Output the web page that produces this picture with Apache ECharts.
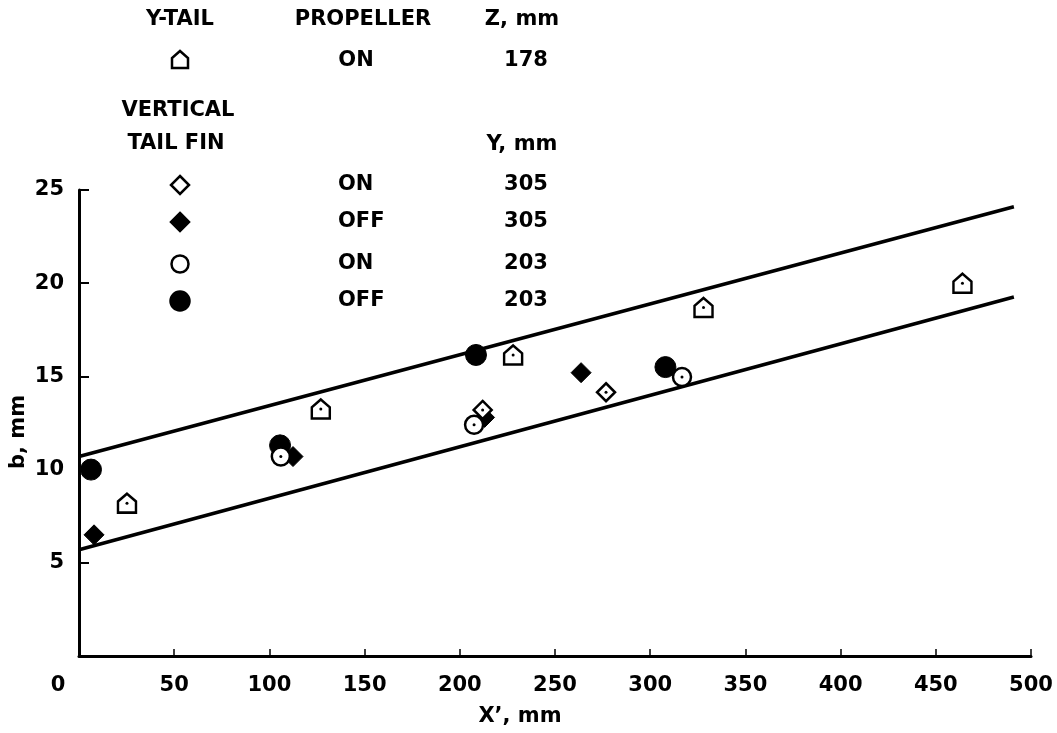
<!DOCTYPE html>
<html>
<head>
<meta charset="utf-8">
<script src="https://cdn.jsdelivr.net/npm/echarts@6/dist/echarts.min.js"></script>
<style>html,body{margin:0;padding:0;background:#fff;}#c{width:1057px;height:733px;}</style>
</head>
<body>
<div id="c"></div>
<script>
// ---- data ----
var xTicks = [0, 50, 100, 150, 200, 250, 300, 350, 400, 450, 500];
var yTicks = [5, 10, 15, 20, 25];
var yTailOn178 = [[25.2, 8.2], [127, 13.25], [228, 16.15], [328, 18.7], [464, 20.0]];
var finOn305 = [[212, 13.2], [276.8, 14.15]];
var finOff305 = [[7.9, 6.5], [112.4, 10.7], [213, 12.8], [263.7, 15.2]];
var finOn203 = [[106, 10.7], [207.5, 12.4], [316.7, 14.97]];
var finOff203 = [[6.3, 10.0], [105.6, 11.3], [208.5, 16.15], [308, 15.5]];
var upperLine = [[0, 10.7], [491, 24.1]];
var lowerLine = [[0, 5.7], [491, 19.26]];

var FONT = '"DejaVu Sans", "Liberation Sans", Arial, sans-serif';
var FS = 21;
var housePath = 'path://M0,-9 L8,-2 L8,8 L-8,8 L-8,-2 Z';

function dots(data) {
  return {
    type: 'scatter', data: data, symbol: 'circle', symbolSize: 3,
    itemStyle: { color: '#000', opacity: 1 }, z: 10, silent: true
  };
}

var chart = echarts.init(document.getElementById('c'), null, { renderer: 'canvas' });

function txt(s, x, y, align) {
  return {
    type: 'text', x: x, y: y,
    style: { text: s, font: 'bold ' + FS + 'px ' + FONT, fill: '#000', align: align || 'center', verticalAlign: 'middle' }
  };
}
function sym(kind, x, y) {
  if (kind === 'house') {
    return { type: 'polygon', x: x, y: y, shape: { points: [[0, -9], [8, -2], [8, 8], [-8, 8], [-8, -2]] },
      style: { fill: '#fff', stroke: '#000', lineWidth: 2.5 } };
  }
  if (kind === 'diamond' || kind === 'fdiamond') {
    return { type: 'polygon', x: x, y: y, shape: { points: [[0, -9], [9, 0], [0, 9], [-9, 0]] },
      style: { fill: kind === 'fdiamond' ? '#000' : '#fff', stroke: '#000', lineWidth: 2.5 } };
  }
  return { type: 'circle', x: x, y: y, shape: { r: kind === 'fcircle' ? 9.5 : 8.5 },
    style: { fill: kind === 'fcircle' ? '#000' : '#fff', stroke: '#000', lineWidth: 2.5 } };
}

var graphics = [
  txt('Y-TAIL', 180, 20), txt('PROPELLER', 363, 20), txt('Z, mm', 522, 20),
  sym('house', 180, 60), txt('ON', 356, 61), txt('178', 526, 61),
  txt('VERTICAL', 178, 111), txt('TAIL FIN', 176, 144), txt('Y, mm', 522, 145),
  sym('diamond', 180, 185), txt('ON', 338, 185, 'left'), txt('305', 526, 185),
  sym('fdiamond', 180, 222), txt('OFF', 338, 222, 'left'), txt('305', 526, 222),
  sym('circle', 180, 264), txt('ON', 338, 264, 'left'), txt('203', 526, 264),
  sym('fcircle', 180, 301), txt('OFF', 338, 301, 'left'), txt('203', 526, 301)
];

var option = {
  animation: false,
  backgroundColor: '#fff',
  grid: { left: 79, right: 26, top: 190, bottom: 77, containLabel: false, outerBoundsMode: 'none' },
  xAxis: {
    type: 'value', min: 0, max: 500, interval: 50,
    name: "X’, mm", nameLocation: 'middle', nameGap: 50, nameMoveOverlap: false,
    nameTextStyle: { fontFamily: FONT, fontWeight: 'bold', fontSize: FS, color: '#000', padding: [0, 70, 0, 0] },
    axisLine: { show: true, onZero: false, lineStyle: { color: '#000', width: 3 } },
    axisTick: { show: true, inside: true, length: 7, lineStyle: { color: '#000', width: 1.5 } },
    axisLabel: {
      margin: 19, color: '#000', fontFamily: FONT, fontWeight: 'bold', fontSize: FS,
      formatter: function (v) { return xTicks.indexOf(v) === 0 ? '{z|' + v + '}' : '' + v; },
      rich: { z: { fontFamily: FONT, fontWeight: 'bold', fontSize: FS, color: '#000', padding: [0, 42, 0, 0] } }
    },
    splitLine: { show: false }
  },
  yAxis: {
    type: 'value', min: 0, max: 25, interval: 5,
    name: 'b, mm', nameLocation: 'middle', nameGap: 50, nameRotate: 90, nameMoveOverlap: false,
    nameTextStyle: { fontFamily: FONT, fontWeight: 'bold', fontSize: FS, color: '#000', padding: [0, 18, 0, 0] },
    axisLine: { show: true, onZero: false, lineStyle: { color: '#000', width: 3 } },
    axisTick: { show: true, inside: true, length: 10, lineStyle: { color: '#000', width: 2 } },
    axisLabel: {
      margin: 15, color: '#000', fontFamily: FONT, fontWeight: 'bold', fontSize: FS,
      formatter: function (v) { return yTicks.indexOf(v) >= 0 ? '' + v : ''; }
    },
    splitLine: { show: false }
  },
  graphic: graphics,
  series: [
    { type: 'line', data: upperLine, symbol: 'none', lineStyle: { color: '#000', width: 3.5 }, z: 2, silent: true },
    { type: 'line', data: lowerLine, symbol: 'none', lineStyle: { color: '#000', width: 3.5 }, z: 2, silent: true },
    { type: 'scatter', data: finOff305, symbol: 'diamond', symbolSize: [20, 20],
      itemStyle: { color: '#000', opacity: 1, borderColor: '#000', borderWidth: 1 }, z: 3 },
    { type: 'scatter', data: finOn305, symbol: 'diamond', symbolSize: [18, 18],
      itemStyle: { color: '#fff', opacity: 1, borderColor: '#000', borderWidth: 2.5 }, z: 4 },
    dots(finOn305),
    { type: 'scatter', data: finOff203, symbol: 'circle', symbolSize: 21,
      itemStyle: { color: '#000', opacity: 1, borderColor: '#000', borderWidth: 1 }, z: 3 },
    { type: 'scatter', data: finOn203, symbol: 'circle', symbolSize: 18,
      itemStyle: { color: '#fff', opacity: 1, borderColor: '#000', borderWidth: 2.5 }, z: 5 },
    dots(finOn203),
    { type: 'scatter', data: yTailOn178, symbol: housePath, symbolSize: [18, 19],
      itemStyle: { color: '#fff', opacity: 1, borderColor: '#000', borderWidth: 2.5 }, z: 4 },
    dots(yTailOn178)
  ]
};
chart.setOption(option);
</script>
</body>
</html>
